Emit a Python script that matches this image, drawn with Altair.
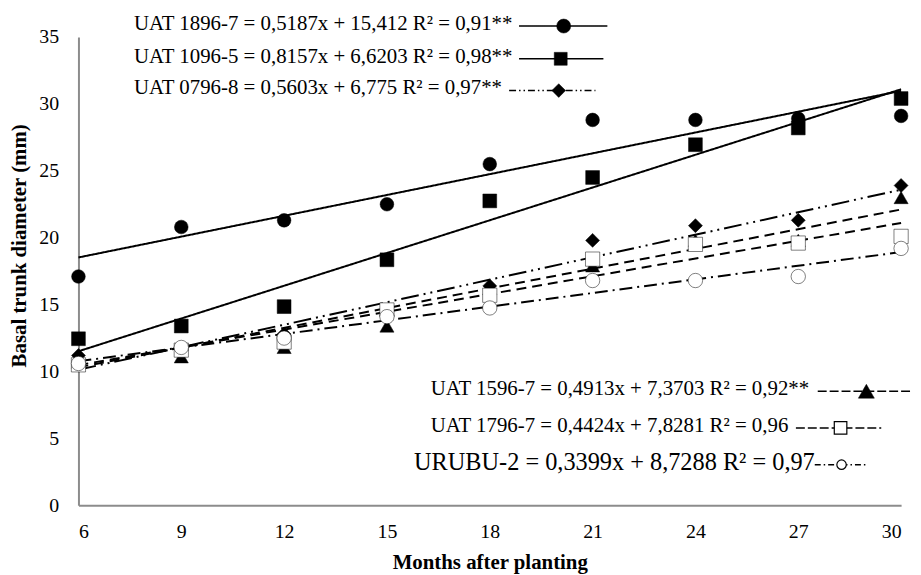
import altair as alt
import pandas as pd

months = [6, 9, 12, 15, 18, 21, 24, 27, 30]
series = ["UAT 1896-7", "UAT 1096-5", "UAT 0796-8", "UAT 1596-7", "UAT 1796-7", "URUBU-2"]
v_1896 = [17.1, 20.8, 21.3, 22.5, 25.5, 28.8, 28.8, 28.9, 29.1]
v_1096 = [12.45, 13.4, 14.85, 18.35, 22.75, 24.5, 26.95, 28.2, 30.4]
v_0796 = [11.2, 11.6, 12.8, 14.2, 16.4, 19.8, 20.9, 21.3, 23.9]
v_1596 = [10.7, 11.1, 11.8, 13.4, 16.2, 17.9, 19.8, 19.8, 23.0]
v_1796 = [10.5, 11.6, 12.2, 14.6, 15.7, 18.4, 19.5, 19.6, 20.1]
v_urubu = [10.6, 11.8, 12.5, 14.1, 14.75, 16.8, 16.8, 17.1, 19.2]

# fitted equations as printed in the chart
slopes = [0.5187, 0.8157, 0.5603, 0.4913, 0.4424, 0.3399]
intercepts = [15.412, 6.6203, 6.775, 7.3703, 7.8281, 8.7288]

legend_top = [
    "UAT 1896-7 = 0,5187x + 15,412 R² = 0,91**",
    "UAT 1096-5 = 0,8157x + 6,6203 R² = 0,98**",
    "UAT 0796-8 = 0,5603x + 6,775 R² = 0,97**",
]
legend_bottom = [
    "UAT 1596-7 = 0,4913x + 7,3703 R² = 0,92**",
    "UAT 1796-7 = 0,4424x + 7,8281 R² = 0,96",
    "URUBU-2 = 0,3399x + 8,7288 R² = 0,97",
]

values = [v_1896, v_1096, v_0796, v_1596, v_1796, v_urubu]
rows = []
for s, vals in zip(series, values):
    for m, v in zip(months, vals):
        rows.append({"series": s, "month": m, "value": v})
df = pd.DataFrame(rows)

trend_rows = []
for s, a, b in zip(series, slopes, intercepts):
    for m in (months[0], months[-1]):
        trend_rows.append({"series": s, "slope": a, "intercept": b, "month": m})
trend_df = pd.DataFrame(trend_rows)

FONT = "Liberation Serif"

xs = alt.Scale(domain=[6, 30], nice=False, zero=False)
ys = alt.Scale(domain=[0, 35], nice=False)

DASHES = [[1, 0], [1, 0], [18, 5, 2, 5, 2, 5], [10, 6], [10, 6], [13, 5, 2, 5]]
SHAPES = ["circle", "square", "diamond", "triangle-up", "square", "circle"]

lines = alt.Chart(trend_df).transform_calculate(
    value="datum.slope * datum.month + datum.intercept"
).mark_line(color="black", strokeWidth=2).encode(
    x=alt.X("month:Q", scale=xs),
    y=alt.Y("value:Q", scale=ys),
    detail="series:N",
    strokeDash=alt.StrokeDash(
        "series:N", scale=alt.Scale(domain=series, range=DASHES), legend=None
    ),
)

points = alt.Chart(df).mark_point(filled=False, opacity=1, stroke="black").encode(
    x=alt.X(
        "month:Q",
        scale=xs,
        axis=alt.Axis(
            values=months,
            title="Months after planting",
            titleY=58,
            titleBaseline="middle",
            labelPadding=16,
        ),
    ),
    y=alt.Y(
        "value:Q",
        scale=ys,
        axis=alt.Axis(
            values=[0, 5, 10, 15, 20, 25, 30, 35],
            title="Basal trunk diameter (mm)",
            titleX=-59,
            titleY=210,
            titleAngle=270,
            titleAlign="center",
            titleBaseline="middle",
            labelPadding=20,
        ),
    ),
    shape=alt.Shape("series:N", scale=alt.Scale(domain=series, range=SHAPES), legend=None),
    fill=alt.Fill(
        "series:N",
        scale=alt.Scale(domain=series, range=["black", "black", "black", "black", "white", "white"]),
        legend=None,
    ),
    size=alt.Size(
        "series:N",
        scale=alt.Scale(domain=series, range=[190, 210, 210, 210, 130, 130]),
        legend=None,
    ),
    strokeWidth=alt.StrokeWidth(
        "series:N",
        scale=alt.Scale(domain=series, range=[0.5, 0.5, 0.5, 0.5, 2, 2]),
        legend=None,
    ),
)

one = pd.DataFrame({"k": [0]})


def label(text, x, y, size=21, align="left"):
    return alt.Chart(pd.DataFrame({"t": [text]})).mark_text(
        font=FONT, fontSize=size, color="black", align=align, baseline="middle"
    ).encode(text="t:N", x=alt.value(x), y=alt.value(y))


def key(x1, x2, xs_, y, dash, shape, fill, size, sw):
    rule = alt.Chart(one).mark_rule(color="black", strokeWidth=1.5, strokeDash=dash).encode(
        x=alt.value(x1), x2=alt.value(x2), y=alt.value(y)
    )
    sym = alt.Chart(one).mark_point(
        shape=shape, filled=True, fill=fill, stroke="black", strokeWidth=sw, size=size, opacity=1
    ).encode(x=alt.value(xs_), y=alt.value(y))
    return [rule, sym]


layers = [lines, points]
# top-left legend (positions in pixels relative to the plot area)
top_y = [-13.3, 20, 51.7]
for t, y in zip(legend_top, top_y):
    layers.append(label(t, 56, y))
layers += key(444, 533, 489, -11, [1, 0], "circle", "black", 200, 0.5)
layers += key(444, 529, 486, 22, [1, 0], "square", "black", 170, 0.5)
layers += key(434, 521, 484, 54, [7, 3, 1.5, 3, 1.5, 3], "diamond", "black", 190, 0.5)

# bottom-right legend
layers.append(label(legend_bottom[0], 355, 355))
layers.append(label(legend_bottom[1], 355, 392))
layers.append(label(legend_bottom[2], 742, 429, size=24.5, align="right"))
layers += key(745, 839, 794, 357, [9, 3], "triangle-up", "black", 260, 0.5)
layers += key(723, 809, 768, 394, [9, 3], "square", "white", 160, 1.2)
layers += key(742, 794, 769, 431, [6, 3, 1.5, 3], "circle", "white", 90, 1.2)

chart = alt.layer(*layers).properties(
    width=829,
    height=472,
    autosize=alt.AutoSizeParams(type="none"),
    padding={"left": 71, "top": 27, "right": 12, "bottom": 68},
).configure_view(stroke=None).configure_axis(
    grid=False,
    ticks=False,
    tickSize=0,
    domainColor="#8c8c8c",
    domainWidth=2,
    labelFont=FONT,
    labelFontSize=20,
    labelColor="black",
    titleFont=FONT,
    titleFontSize=21,
    titleFontWeight="bold",
    titleColor="black",
)

chart.save("out.html", embed_options={"renderer": "svg", "actions": False})
